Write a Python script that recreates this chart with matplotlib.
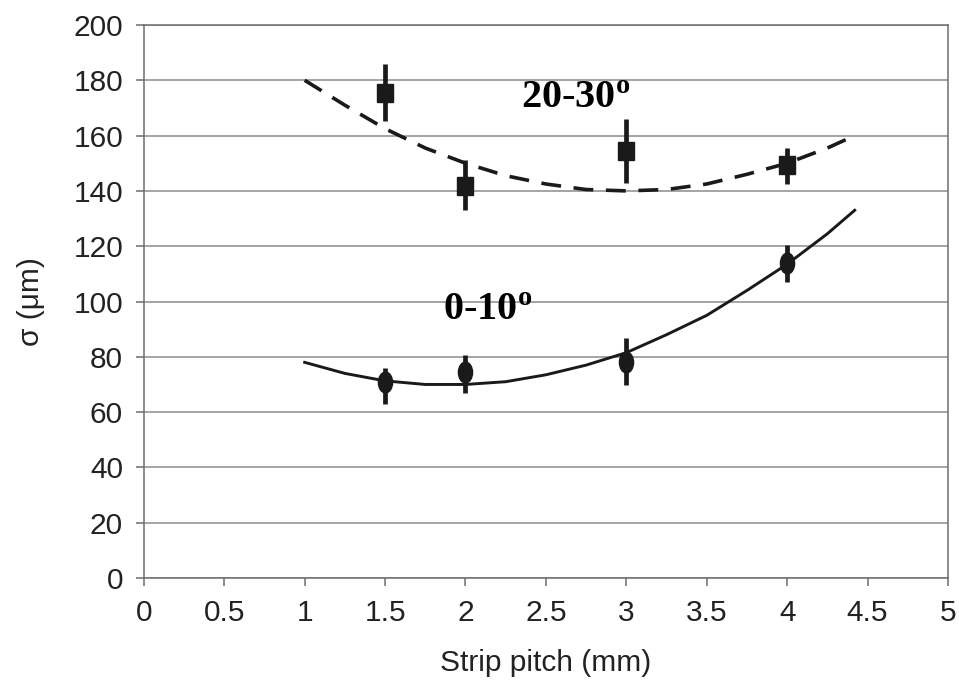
import matplotlib

matplotlib.use("Agg")
import matplotlib.pyplot as plt
from matplotlib.markers import MarkerStyle
from matplotlib.transforms import Affine2D

# Messpunkte (Strip pitch in mm, sigma in um)
pitch = [1.5, 2.0, 3.0, 4.0]

sigma_20_30 = [175.5, 141.8, 154.4, 149.2]
err_lo_20_30 = [10.2, 8.7, 11.7, 6.7]
err_hi_20_30 = [10.3, 9.2, 11.5, 6.2]

sigma_0_10 = [71.0, 74.6, 78.3, 114.0]
err_lo_0_10 = [8.0, 7.6, 8.5, 6.8]
err_hi_0_10 = [5.0, 6.0, 8.4, 6.4]

# Fitkurven
fit_x_20_30 = [1.0, 1.25, 1.5, 1.75, 2.0, 2.25, 2.5, 2.75, 3.0, 3.25, 3.5, 3.75, 4.0, 4.25, 4.42]
fit_y_20_30 = [180, 171, 162.5, 155.5, 150, 145.5, 142.5, 140.5, 140, 140.5, 142.5, 146, 150, 155.5, 160]

fit_x_0_10 = [1.0, 1.25, 1.5, 1.75, 2.0, 2.25, 2.5, 2.75, 3.0, 3.25, 3.5, 3.75, 4.0, 4.25, 4.42]
fit_y_0_10 = [78, 74, 71.3, 70, 70, 71, 73.5, 77, 81.5, 88, 95, 104, 113.5, 124.5, 133]

x_ticks = [0, 0.5, 1, 1.5, 2, 2.5, 3, 3.5, 4, 4.5, 5]
x_tick_labels = ["0", "0.5", "1", "1.5", "2", "2.5", "3", "3.5", "4", "4.5", "5"]
y_ticks = list(range(0, 201, 20))

plt.rcParams["font.family"] = ["Liberation Sans", "DejaVu Sans"]
plt.rcParams["mathtext.fontset"] = "custom"
plt.rcParams["mathtext.rm"] = "Liberation Serif:bold"
plt.rcParams["mathtext.it"] = "Liberation Serif:bold"
plt.rcParams["mathtext.bf"] = "Liberation Serif:bold"

fig = plt.figure(figsize=(9.59, 6.81), dpi=100)
ax = fig.add_axes([0.150, 0.1512, 0.8385, 0.8121])

grid_col = "#8c8c8c"
ax.set_axisbelow(True)
ax.yaxis.grid(True, color=grid_col, linewidth=1.1)

ax.plot(fit_x_20_30, fit_y_20_30, color="#1a1a1a", linewidth=2.6, dashes=(5.5, 3.5))
ax.plot(fit_x_0_10, fit_y_0_10, color="#1a1a1a", linewidth=2.1)

square = MarkerStyle("s", transform=Affine2D().scale(0.85, 1.0))
ellipse = MarkerStyle("o", transform=Affine2D().scale(0.68, 1.0))

ax.errorbar(
    pitch,
    sigma_20_30,
    yerr=[err_lo_20_30, err_hi_20_30],
    fmt="none",
    ecolor="#1a1a1a",
    elinewidth=3.4,
    capsize=0,
)
ax.plot(pitch, sigma_20_30, linestyle="none", marker=square, markersize=13.5, color="#1a1a1a")

ax.errorbar(
    pitch,
    sigma_0_10,
    yerr=[err_lo_0_10, err_hi_0_10],
    fmt="none",
    ecolor="#1a1a1a",
    elinewidth=3.4,
    capsize=0,
)
ax.plot(pitch, sigma_0_10, linestyle="none", marker=ellipse, markersize=15, color="#1a1a1a")

label_kw = dict(fontsize=29, color="black", family="Liberation Serif", fontweight="bold")
ax.text(2.345, 170, r"20-30$^{\mathrm{o}}$", **label_kw)
ax.text(1.86, 93.3, r"0-10$^{\mathrm{o}}$", **label_kw)

ax.set_xlim(0, 5)
ax.set_ylim(0, 200)
ax.set_xticks(x_ticks)
ax.set_xticklabels(x_tick_labels)
ax.set_yticks(y_ticks)

ax.tick_params(axis="both", colors="#6e6e6e", labelcolor="#222222", labelsize=21.5, length=6, width=1.1)
ax.tick_params(axis="x", pad=9)
ax.tick_params(axis="y", pad=9)

for side in ["left", "right", "top", "bottom"]:
    ax.spines[side].set_color("#6e6e6e")
    ax.spines[side].set_linewidth(1.1)

ax.set_xlabel("Strip pitch (mm)", fontsize=21.5, color="#222222", labelpad=16)
ax.set_ylabel("σ (μm)", fontsize=21.5, color="#222222", labelpad=20)

fig.savefig("out.png", dpi=100)
